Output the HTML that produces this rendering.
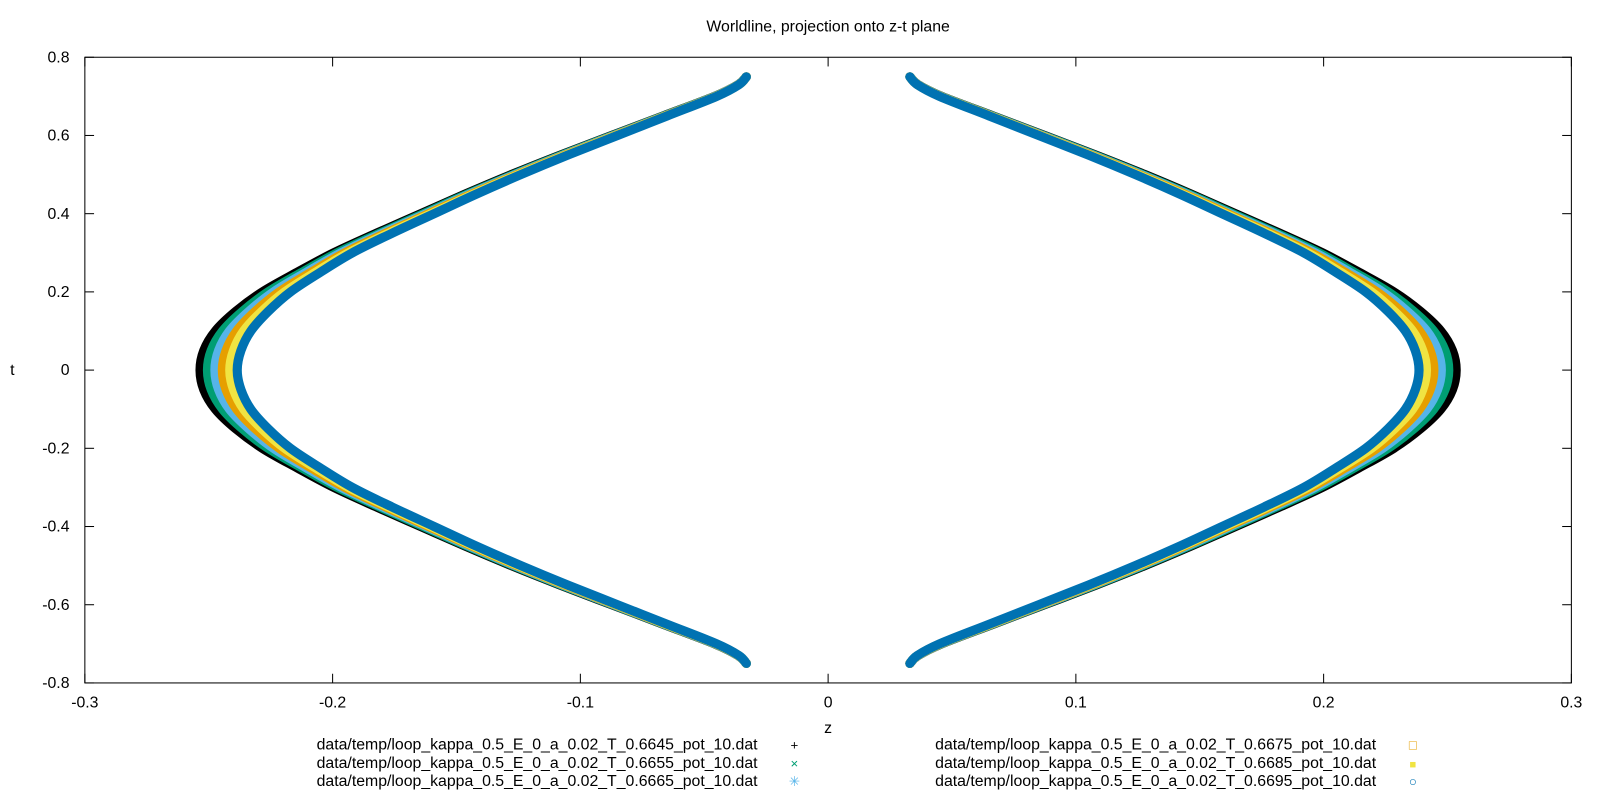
<!DOCTYPE html>
<html><head><meta charset="utf-8"><style>
html,body{margin:0;padding:0;background:#fff;}
svg{display:block;font-family:"Liberation Sans",sans-serif;}
</style></head><body>
<svg id="chart" width="1600" height="800" viewBox="0 0 1565 782.5" preserveAspectRatio="none" xmlns="http://www.w3.org/2000/svg">
<rect x="0" y="0" width="1565" height="782.5" fill="#fff"/>
<text x="810" y="31" font-size="15.5" text-anchor="middle">Worldline, projection onto z-t plane</text>
<g id="axes"></g>
<g id="series"></g>
<rect x="83" y="56" width="1454" height="612" fill="none" stroke="#000" stroke-width="1"/>
<text x="810" y="717" font-size="15.5" text-anchor="middle">z</text>
<text x="12" y="367" font-size="15.5" text-anchor="middle">t</text>
<g id="legend"></g>
</svg>
<script>
const xTicks = [-0.3,-0.2,-0.1,0,0.1,0.2,0.3];
const xTickLabels = ["-0.3","-0.2","-0.1","0","0.1","0.2","0.3"];
const yTicks = [-0.8,-0.6,-0.4,-0.2,0,0.2,0.4,0.6,0.8];
const yTickLabels = ["-0.8","-0.6","-0.4","-0.2","0","0.2","0.4","0.6","0.8"];
const seriesNames = ["data/temp/loop_kappa_0.5_E_0_a_0.02_T_0.6645_pot_10.dat","data/temp/loop_kappa_0.5_E_0_a_0.02_T_0.6655_pot_10.dat","data/temp/loop_kappa_0.5_E_0_a_0.02_T_0.6665_pot_10.dat","data/temp/loop_kappa_0.5_E_0_a_0.02_T_0.6675_pot_10.dat","data/temp/loop_kappa_0.5_E_0_a_0.02_T_0.6685_pot_10.dat","data/temp/loop_kappa_0.5_E_0_a_0.02_T_0.6695_pot_10.dat"];
const seriesColors = ["#000000","#009e73","#56b4e9","#e69f00","#f0e442","#0072b2"];
const tValues = [0,0.05,0.1,0.15,0.2,0.25,0.3,0.35,0.4,0.45,0.5,0.55,0.6,0.65,0.7,0.73,0.75];
const zBlack  = [0.2535,0.252,0.2473,0.2391,0.2283,0.2143,0.1995,0.1823,0.1644,0.1465,0.1278,0.108,0.0873,0.0665,0.0458,0.0363,0.033];
const zGreen  = [0.2505,0.249,0.2444,0.2364,0.226,0.2124,0.198,0.181,0.1633,0.1456,0.127,0.1074,0.0868,0.0662,0.0456,0.0362,0.033];
const zLBlue  = [0.2475,0.246,0.2416,0.2338,0.2238,0.2106,0.1965,0.1798,0.1622,0.1447,0.1263,0.1068,0.0864,0.0659,0.0455,0.0362,0.033];
const zOrange = [0.2445,0.243,0.2387,0.2312,0.2215,0.2087,0.195,0.1785,0.1612,0.1438,0.1255,0.1062,0.0859,0.0656,0.0453,0.0361,0.033];
const zYellow = [0.2415,0.240,0.2359,0.2286,0.2193,0.2069,0.1935,0.1773,0.1601,0.1429,0.1248,0.1056,0.0855,0.0653,0.0452,0.0361,0.033];
const zBlue   = [0.2385,0.237,0.233,0.226,0.217,0.205,0.192,0.176,0.159,0.142,0.124,0.105,0.085,0.065,0.045,0.036,0.033];
const seriesZ = [zBlack,zGreen,zLBlue,zOrange,zYellow,zBlue];

const NS="http://www.w3.org/2000/svg";
const X0=83,X1=1537,Y0=668,Y1=56;
const sx=z=>X0+(z+0.3)/0.6*(X1-X0);
const sy=t=>Y0-(t+0.8)/1.6*(Y0-Y1);
function mk(tag,attrs,parent){const e=document.createElementNS(NS,tag);for(const k in attrs)e.setAttribute(k,attrs[k]);parent.appendChild(e);return e;}
function smooth(p){
  let d='M'+p[0][0]+','+p[0][1];
  for(let i=0;i<p.length-1;i++){
    const a=p[Math.max(0,i-1)],b=p[i],c=p[i+1],e=p[Math.min(p.length-1,i+2)];
    d+=' C'+(b[0]+(c[0]-a[0])/6)+','+(b[1]+(c[1]-a[1])/6)+' '+(c[0]-(e[0]-b[0])/6)+','+(c[1]-(e[1]-b[1])/6)+' '+c[0]+','+c[1];
  }
  return d;
}
const axes=document.getElementById('axes');
xTicks.forEach((v,i)=>{
  const x=sx(v);
  const a=mk('line',{x1:x,y1:Y0,x2:x,y2:Y0-9,stroke:'#000'},axes);
  
  
  const b=mk('line',{x1:x,y1:Y1,x2:x,y2:Y1+9,stroke:'#000'},axes);
  
  
  const t=mk('text',{x:x,y:692,'font-size':15.5,'text-anchor':'middle'},axes);
  t.textContent=xTickLabels[i];
  
  
});
yTicks.forEach((v,i)=>{
  const y=sy(v);
  const a=mk('line',{x1:X0,y1:y,x2:X0+9,y2:y,stroke:'#000'},axes);
  
  
  const b=mk('line',{x1:X1,y1:y,x2:X1-9,y2:y,stroke:'#000'},axes);
  
  
  const t=mk('text',{x:68,y:y+5,'font-size':15.5,'text-anchor':'end'},axes);
  t.textContent=yTickLabels[i];
  
  
});
const sg=document.getElementById('series');
seriesZ.forEach((zs,si)=>{
  [1,-1].forEach(side=>{
    const pts=[];
    for(let i=tValues.length-1;i>=0;i--)pts.push([sx(side*zs[i]),sy(tValues[i])]);
    for(let i=1;i<tValues.length;i++)pts.push([sx(side*zs[i]),sy(-tValues[i])]);
    const p=mk('path',{d:smooth(pts),fill:'none',stroke:seriesColors[si],'stroke-width':9,'stroke-linejoin':'round','stroke-linecap':'round'},sg);
    
    
  });
});
const lg=document.getElementById('legend');
const symbols=['+','×','✳','□','■','○'];
seriesNames.forEach((n,i)=>{
  const col=i<3?0:1,row=i%3;
  const tx=col?1346:741,sxp=col?1382:777,y=733+row*18;
  const t=mk('text',{x:tx,y:y,'font-size':15.5,'text-anchor':'end'},lg);
  t.textContent=n;
  
  
  const s=mk('text',{x:sxp,y:y,'font-size':i==4?11:13,'text-anchor':'middle',fill:i==0?'#000':seriesColors[i]},lg);
  s.textContent=symbols[i];
  
  
});
</script>
</body></html>
